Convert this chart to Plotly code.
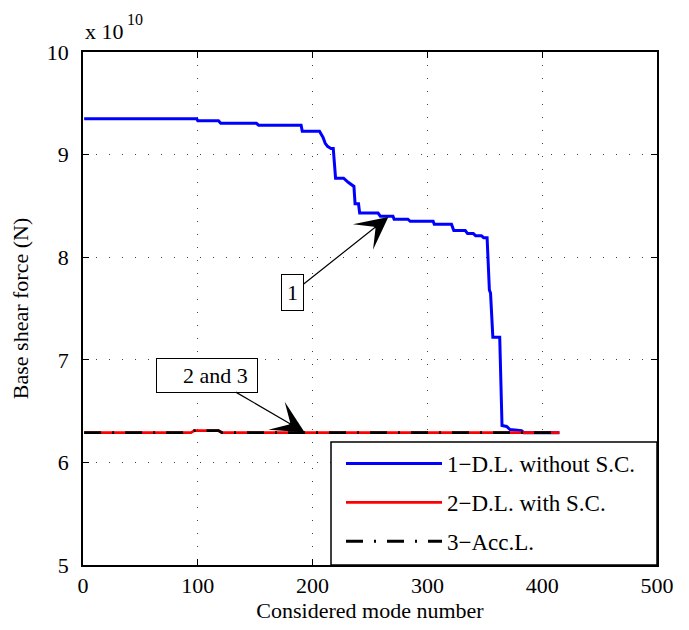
import plotly.graph_objects as go

# Values in units of 1e10 N
mode_dl_without_sc = [1, 99, 100, 118, 120, 151, 153, 190, 191, 206, 209, 211, 213, 216, 218,
                      220, 227, 231, 236, 237, 240, 241, 257, 259, 270, 271, 283, 285, 305,
                      306, 321, 323, 333, 335, 340, 342, 347, 349, 352, 354, 355, 357, 363,
                      365, 369, 372, 382, 384, 415]
force_dl_without_sc = [9.35, 9.35, 9.33, 9.33, 9.305, 9.305, 9.286, 9.286, 9.228, 9.228, 9.17,
                       9.11, 9.08, 9.06, 9.06, 8.77, 8.77, 8.73, 8.69, 8.52, 8.52, 8.43, 8.43,
                       8.40, 8.40, 8.37, 8.37, 8.35, 8.35, 8.32, 8.32, 8.26, 8.26, 8.23, 8.23,
                       8.21, 8.21, 8.19, 8.19, 7.68, 7.65, 7.22, 7.22, 6.36, 6.35, 6.32, 6.31,
                       6.29, 6.29]

mode_dl_with_sc = [1, 94, 97, 118, 121, 415]
force_dl_with_sc = [6.29, 6.29, 6.31, 6.31, 6.29, 6.29]

mode_acc = [1, 94, 97, 118, 121, 415]
force_acc = [6.29, 6.29, 6.31, 6.31, 6.29, 6.29]

x_ticks = [0, 100, 200, 300, 400, 500]
y_ticks = [5, 6, 7, 8, 9, 10]

FONT = "Liberation Serif, Times New Roman, serif"

fig = go.Figure()
fig.add_trace(go.Scatter(x=mode_dl_without_sc, y=force_dl_without_sc, mode="lines",
                         name="1\u2212D.L. without S.C.", legendgroup="a",
                         line=dict(color="#0000ff", width=3)))
fig.add_trace(go.Scatter(x=mode_dl_with_sc, y=force_dl_with_sc, mode="lines",
                         name="2\u2212D.L. with S.C.", legendgroup="b",
                         line=dict(color="#ff0000", width=2.8)))
fig.add_trace(go.Scatter(x=mode_acc, y=force_acc, mode="lines",
                         name="3\u2212Acc.L.", legendgroup="c",
                         line=dict(color="black", width=2.8, dash="17px,11px,2px,11px")))

axis_common = dict(showline=True, linecolor="black", linewidth=1.5, mirror="ticks",
                   ticks="inside", ticklen=6, tickcolor="black", tickwidth=1,
                   showgrid=True, gridcolor="rgba(0,0,0,0.75)", gridwidth=1,
                   griddash="1px,12px", zeroline=False, automargin=False,
                   tickfont=dict(family=FONT, size=22, color="black"))

fig.update_xaxes(range=[0, 500], tickvals=x_ticks, ticklabelstandoff=0,
                 title=dict(text="Considered mode number", font=dict(family=FONT, size=22, color="black"),
                            standoff=2),
                 **axis_common)
fig.update_yaxes(range=[5, 10], tickvals=y_ticks, ticklabelstandoff=8,
                 title=dict(text="Base shear force (N)", font=dict(family=FONT, size=22, color="black"),
                            standoff=12),
                 **axis_common)

# exponent label
fig.add_annotation(xref="paper", yref="paper", x=0, y=1, xanchor="left", yanchor="bottom",
                   yshift=6, text="x 10", showarrow=False,
                   font=dict(family=FONT, size=22, color="black"))
fig.add_annotation(xref="paper", yref="paper", x=(125 - 83) / 574, y=1, xanchor="left",
                   yanchor="bottom", yshift=22, text="10", showarrow=False,
                   font=dict(family=FONT, size=16, color="black"))

fig.add_annotation(x=266, y=8.393, text="1", showarrow=True, arrowhead=3, arrowsize=4.5,
                   arrowwidth=1.2, arrowcolor="black", ax=-96, ay=76,
                   bordercolor="black", borderwidth=1, borderpad=5, bgcolor="white",
                   font=dict(family=FONT, size=22, color="black"))
fig.add_annotation(x=193, y=6.295, text="&nbsp;&nbsp;&nbsp;&nbsp;2 and 3&nbsp;", showarrow=True,
                   arrowhead=3, arrowsize=4.5, arrowwidth=1.2, arrowcolor="black", ax=-98, ay=-57,
                   bordercolor="black", borderwidth=1, borderpad=4, bgcolor="white",
                   font=dict(family=FONT, size=22, color="black"))

# legend frame
fig.add_shape(type="rect", xref="paper", yref="paper", x0=(331 - 83) / 574, x1=1,
              y0=0, y1=(565 - 442) / 513, fillcolor="white",
              line=dict(color="black", width=1.5), layer="above")

fig.update_layout(
    width=689, height=630,
    margin=dict(l=83, r=32, t=52, b=65),
    plot_bgcolor="white", paper_bgcolor="white",
    font=dict(family=FONT, size=22, color="black"),
    showlegend=True,
    legend=dict(x=(341 - 83) / 574, y=(565 - 442) / 513, xanchor="left", yanchor="top",
                bgcolor="rgba(0,0,0,0)", borderwidth=0, itemwidth=96, tracegroupgap=6,
                font=dict(family=FONT, size=23, color="black")),
)

fig.write_html("out.html")
